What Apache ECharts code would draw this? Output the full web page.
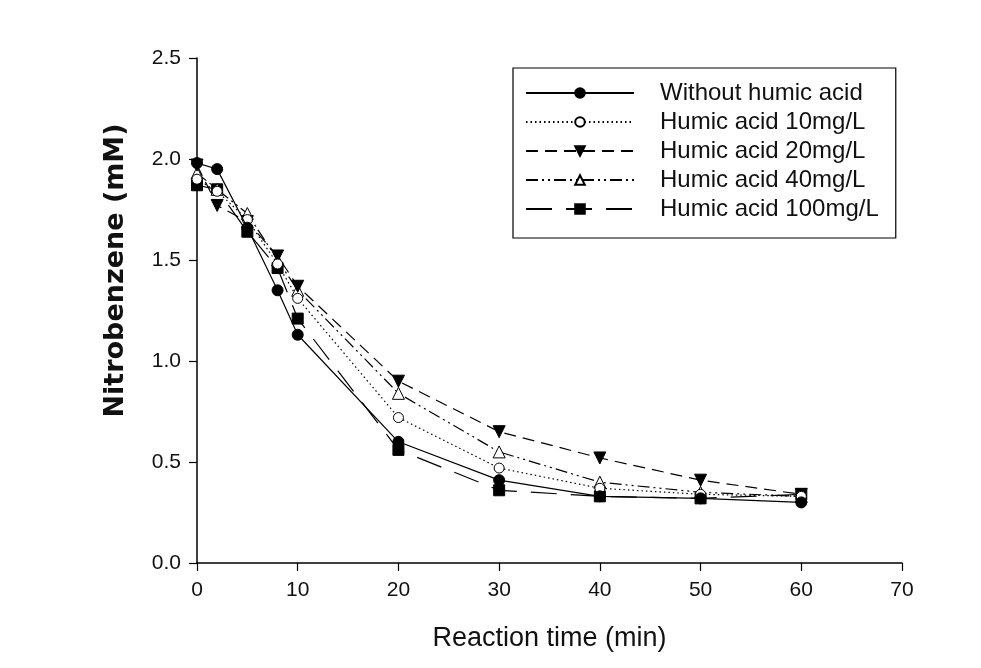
<!DOCTYPE html>
<html>
<head>
<meta charset="utf-8">
<script src="https://cdn.jsdelivr.net/npm/echarts@6/dist/echarts.min.js"></script>
<style>
  html, body { margin: 0; padding: 0; background: #fff; }
  #chart { width: 981px; height: 668px; }
</style>
</head>
<body>
<div id="chart"></div>
<script>
const times = [0, 2, 5, 8, 10, 20, 30, 40, 50, 60];
const seriesNames = ["Without humic acid", "Humic acid 10mg/L", "Humic acid 20mg/L", "Humic acid 40mg/L", "Humic acid 100mg/L"];
const withoutHA = [1.98, 1.95, 1.66, 1.35, 1.13, 0.60, 0.41, 0.33, 0.32, 0.30];
const ha10 = [1.90, 1.84, 1.70, 1.48, 1.31, 0.72, 0.47, 0.37, 0.34, 0.33];
const ha20 = [1.97, 1.77, 1.69, 1.52, 1.37, 0.90, 0.65, 0.52, 0.41, 0.34];
const ha40 = [1.93, 1.85, 1.73, 1.50, 1.35, 0.84, 0.55, 0.40, 0.35, 0.33];
const ha100 = [1.87, 1.85, 1.64, 1.46, 1.21, 0.56, 0.36, 0.33, 0.32, 0.34];
const xTicks = { min: 0, max: 70, interval: 10 };
const yTicks = { min: 0, max: 2.5, interval: 0.5 };

const pair = arr => times.map((t, i) => [t, arr[i]]);

const styles = [
  { data: withoutHA, symbol: 'circle', size: 11, rotate: 0, fill: '#000', dash: 'solid' },
  { data: ha10, symbol: 'circle', size: 10, rotate: 0, fill: '#fff', dash: [1.5, 3] },
  { data: ha20, symbol: 'triangle', size: 12, rotate: 180, fill: '#000', dash: [12, 7] },
  { data: ha40, symbol: 'triangle', size: 12, rotate: 0, fill: '#fff', dash: [12, 4, 2, 4, 2, 4] },
  { data: ha100, symbol: 'rect', size: 11, rotate: 0, fill: '#000', dash: [26, 14] }
];

const series = styles.map((s, i) => ({
  name: seriesNames[i],
  type: 'line',
  data: pair(s.data),
  symbol: s.symbol,
  symbolSize: s.size,
  symbolRotate: s.rotate,
  showAllSymbol: true,
  z: 10 - i,
  itemStyle: { color: s.fill, borderColor: '#000', borderWidth: 1, opacity: 1 },
  lineStyle: { color: '#000', width: 1.2, type: s.dash },
  emphasis: { disabled: true },
  animation: false
}));

const chart = echarts.init(document.getElementById('chart'), null, { renderer: 'canvas' });
chart.setOption({
  backgroundColor: '#fff',
  animation: false,
  grid: { left: 197, right: 79, top: 58, bottom: 105, containLabel: false },
  legend: {
    orient: 'vertical',
    left: 513, top: 68,
    padding: [13, 17, 17, 12],
    itemGap: 5,
    itemWidth: 108,
    itemHeight: 12,
    borderColor: '#000',
    borderWidth: 1.2,
    backgroundColor: '#fff',
    textStyle: { fontFamily: 'Liberation Sans, Arial', fontSize: 24, color: '#111', padding: [0, 0, 0, 21] },
    data: seriesNames
  },
  xAxis: {
    type: 'value',
    min: xTicks.min, max: xTicks.max, interval: xTicks.interval,
    name: 'Reaction time (min)',
    nameLocation: 'middle',
    nameGap: 62,
    nameTextStyle: { fontFamily: 'Liberation Sans, Arial', fontSize: 27, color: '#111' },
    axisLine: { lineStyle: { color: '#000', width: 1.5 } },
    axisTick: { show: true, inside: false, length: 8, lineStyle: { color: '#000', width: 1.2 } },
    axisLabel: { fontFamily: 'Liberation Sans, Arial', fontSize: 21, color: '#111', margin: 17 },
    splitLine: { show: false }
  },
  yAxis: {
    type: 'value',
    min: yTicks.min, max: yTicks.max, interval: yTicks.interval,
    name: 'Nitrobenzene (mM)',
    nameLocation: 'middle',
    nameRotate: 90,
    nameGap: 68,
    nameTextStyle: { fontFamily: 'DejaVu Sans', fontWeight: 'bold', fontSize: 27, color: '#111', padding: [0, 0, 0, 80] },
    axisLine: { show: true, lineStyle: { color: '#000', width: 1.5 } },
    axisTick: { show: true, inside: false, length: 8, lineStyle: { color: '#000', width: 1.2 } },
    axisLabel: { fontFamily: 'Liberation Sans, Arial', fontSize: 21, color: '#111', margin: 16, formatter: v => v.toFixed(1) },
    splitLine: { show: false }
  },
  series: series
});
</script>
</body>
</html>
